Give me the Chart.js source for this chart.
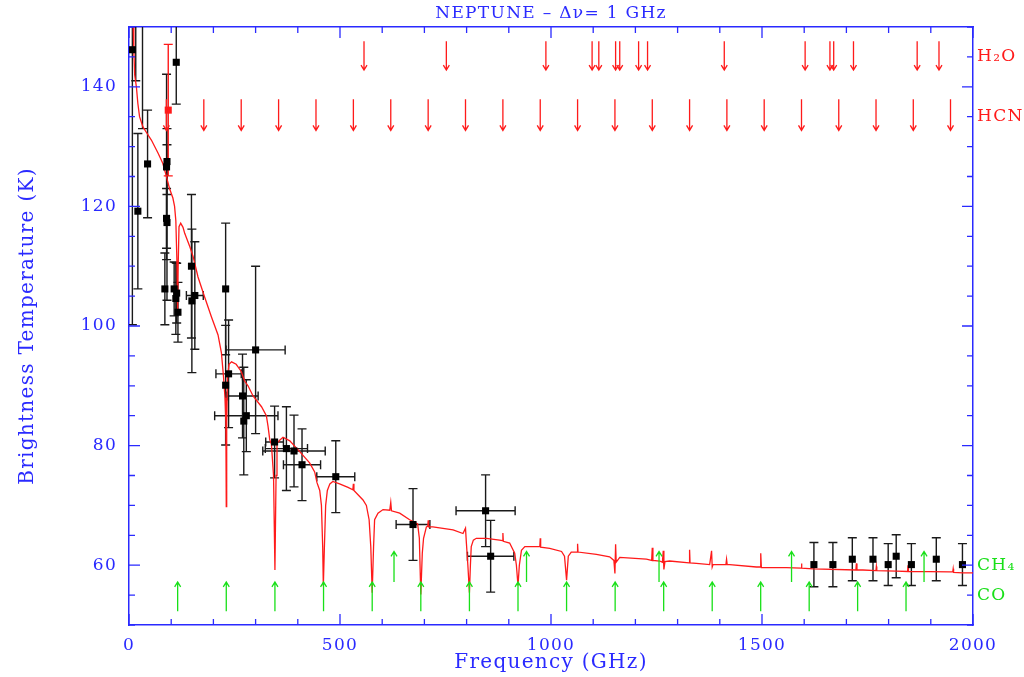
<!DOCTYPE html>
<html>
<head>
<meta charset="utf-8">
<title>Neptune - brightness temperature</title>
<script src="https://cdn.jsdelivr.net/npm/chart.js@4.4.1/dist/chart.umd.min.js"></script>
<style>
  html, body { margin: 0; padding: 0; background: #fff; }
  canvas { display: block; }
</style>
</head>
<body>
<canvas id="neptune" width="1024" height="677"></canvas>
<script>
/* global Chart */
// model spectrum (GHz, K)
const modelFreq = [9, 10, 11.5, 13.5, 17.5, 21, 25, 33, 41, 53, 69, 80, 88, 96, 104, 108, 111, 113.5, 115.3, 116.5,
  118.5, 122.5, 128, 132, 144, 152, 163.5, 179, 195, 211, 219, 224, 227.5, 229.5, 230.5, 231.5, 233.5, 237, 243, 254,
  266, 274, 282, 294, 314, 325.5, 329.5, 333.5, 337.5, 342.5, 345.8, 348.5, 350.7, 357, 365, 381, 404.5, 428, 440, 445.5,
  452, 456, 459, 460.5, 463, 466, 470, 476, 483, 499, 519, 530.5, 531.7, 533, 554.5, 562.5, 569, 573, 576.3, 579.5,
  582, 590, 602, 618, 620.3, 622, 641.5, 665, 684, 688, 691.5, 695, 698, 704.7, 708, 709, 710, 720, 768, 791.5,
  797.4, 799.5, 803, 806.7, 809, 811, 816, 823, 847, 878, 885, 886, 887, 902, 914, 918, 921.8, 925, 930, 938,
  957, 973.5, 974.5, 975.5, 997, 1025, 1032, 1036.9, 1041, 1048, 1062, 1063, 1064, 1107.6, 1139, 1149, 1151.5, 1153.1, 1154.5, 1163,
  1226, 1238.5, 1240, 1241.5, 1257.6, 1264, 1266, 1267.5, 1270, 1281, 1327.5, 1328.4, 1329.5, 1344.5, 1376, 1380.5, 1382, 1384, 1414.5, 1416,
  1417.5, 1423.5, 1486.7, 1496, 1497, 1498.5, 1557.8, 1592.5, 1593.6, 1594.5, 1621, 1722.5, 1723.7, 1725, 1739, 1770, 1771, 1772, 1818.5, 1845,
  1846, 1847, 1944.8, 1952, 1953, 1954, 1976, 2000];
const modelTemp = [175, 150, 146, 142, 140, 137.2, 135, 133.3, 132.4, 131.1, 128.9, 127.2, 125.2, 123, 121.4, 120, 117.6, 111, 102.3, 110,
  116.6, 117.2, 116.5, 115.5, 113.3, 111.6, 108.2, 104.9, 101.6, 98.5, 95.5, 91.5, 88, 84, 69.8, 84, 91.5, 93.6, 94, 93.6,
  92.4, 90.8, 90, 88.3, 86.5, 85, 83.2, 81, 80.2, 75, 59.2, 75, 80.4, 80.9, 81.4, 80.8, 79, 77.1, 75.6, 73.8,
  72.5, 70, 63, 56.5, 63, 70, 72.5, 73.6, 74, 73.6, 73, 72.6, 73.6, 72.5, 70.9, 70, 67.6, 63, 55.4, 63,
  67.6, 68.7, 69.3, 69.2, 70.5, 69.1, 68.7, 67.6, 66.9, 64.5, 55.1, 62, 64.5, 66.4, 66.5, 67.5, 66.4, 66.4, 65.9, 65.3,
  66.2, 63.7, 60, 55.4, 60, 63.1, 64.2, 64.5, 64.5, 64.2, 64.1, 65.4, 64, 63.7, 62, 60, 56.6, 60, 62.5, 63.1,
  63.1, 63.1, 64.5, 63, 62.8, 62.3, 61.5, 57.5, 61.5, 62.2, 62.2, 63.6, 62.2, 61.8, 61.4, 60.8, 58.6, 63.5, 60.5, 61.3,
  61, 60.8, 62.9, 60.8, 60.7, 60.5, 62.4, 59.3, 60.6, 60.7, 60.4, 62.6, 60.4, 60.3, 60.1, 62.4, 59.7, 60.1, 60.1, 61,
  60.1, 60.1, 59.7, 59.7, 62, 59.6, 59.6, 59.5, 60.3, 59.5, 59.4, 59.2, 60.3, 59.2, 59.2, 59.1, 59.8, 59.1, 59, 58.95,
  60, 58.95, 58.9, 58.9, 59.4, 58.8, 58.7, 58.7];

// measurements
const obsFreq = [8, 16, 32, 21, 44, 89, 90, 89, 90, 85, 107, 111, 113, 116, 112, 148, 149, 156, 229, 229,
  236, 269, 272, 278, 300, 345, 373, 391, 410, 490, 673, 845, 857, 1623, 1668, 1714, 1763, 1799, 1818, 1854, 1913, 1975];
const obsTemp = [146.2, 155, 165, 119.2, 127.1, 126.6, 127.5, 118, 117.3, 106.2, 106.2, 104.6, 105.5, 102.3, 144.1, 110, 104.2, 105.1, 106.2, 90.1,
  92, 88.3, 84.1, 85, 96, 80.6, 79.5, 79.1, 76.8, 74.8, 66.8, 69.1, 61.5, 60.1, 60.1, 61, 61, 60.1, 61.5, 60.1, 61, 60.1];
const obsTempErr = [46, 14, 32, 13, 9, 15.5, 5.5, 5, 13, 6, 4.5, 6, 5, 5, 7, 12, 12, 9, 11, 10,
  9, 7, 9, 6, 14, 6, 7, 6, 6, 6, 6, 6, 6, 3.7, 3.7, 3.6, 3.6, 3.5, 3.6, 3.5, 3.6, 3.5];
const obsFreqErr = [0, 0, 0, 0, 0, 0, 0, 0, 0, 0, 0, 0, 0, 0, 0, 0, 0, 20, 0, 0,
  30, 37, 0, 75, 70, 21, 50, 74, 44, 45, 40, 70, 55, 0, 0, 0, 0, 0, 0, 0, 0, 0];

const redFreq = [93];
const redTemp = [136.1];
const redTempErr = [11];

// line positions (GHz)
const h2oFreq = [556.9, 752.0, 987.9, 1097.4, 1113.3, 1153.1, 1162.9, 1207.6, 1228.8, 1410.6, 1602.2, 1661.0, 1669.9, 1716.8, 1867.7, 1919.4];
const hcnFreq = [88.6, 177.3, 265.9, 354.5, 443.1, 531.7, 620.3, 708.9, 797.4, 886.0, 974.5, 1063.0, 1151.5, 1240.0, 1328.4, 1416.8,
  1505.2, 1593.6, 1681.9, 1770.2, 1858.5, 1946.7];
const coFreq = [115.3, 230.5, 345.8, 461.0, 576.3, 691.5, 806.7, 921.8, 1036.9, 1152.0, 1267.0, 1382.0, 1496.9, 1611.8, 1726.6, 1841.3];
const ch4Freq = [628, 942, 1256, 1570, 1884];

const freqTicks = [0, 500, 1000, 1500, 2000];
const tempTicks = [60, 80, 100, 120, 140];
const sideLabels = ['CO', 'CH\u2084', 'HCN', 'H\u2082O'];
const sideLabelT = [55, 60, 135, 145];

const blue = '#2a2aff';
const red = '#ff1a1a';
const green = '#18e018';
const sideColors = [green, green, red, red];
const serif = "'DejaVu Serif', 'Liberation Serif', serif";

// wide lettering, closer to the old PGPLOT font
const wideText = {
    id: 'wideText',
    beforeLayout(chart) { chart.ctx.letterSpacing = '1.3px'; },
    beforeDraw(chart) { chart.ctx.letterSpacing = '1.3px'; }
};

const errorBars = {
    id: 'errorBars',
    beforeDatasetsDraw(chart) {
        const { ctx, chartArea: a, scales: { x, y } } = chart;
        const cap = 4.5;
        ctx.save();
        ctx.beginPath();
        ctx.rect(a.left, a.top, a.right - a.left, a.bottom - a.top);
        ctx.clip();
        chart.data.datasets.forEach(ds => {
            if (!ds.errY) return;
            ctx.strokeStyle = ds.barColor;
            ctx.lineWidth = 1.4;
            ds.data.forEach((p, i) => {
                const px = x.getPixelForValue(p.x);
                const py = y.getPixelForValue(p.y);
                const hi = y.getPixelForValue(p.y + ds.errY[i]);
                const lo = y.getPixelForValue(p.y - ds.errY[i]);
                ctx.beginPath();
                ctx.moveTo(px, hi); ctx.lineTo(px, lo);
                ctx.moveTo(px - cap, hi); ctx.lineTo(px + cap, hi);
                ctx.moveTo(px - cap, lo); ctx.lineTo(px + cap, lo);
                const ex = ds.errX ? ds.errX[i] : 0;
                if (ex) {
                    const l = x.getPixelForValue(p.x - ex);
                    const r = x.getPixelForValue(p.x + ex);
                    ctx.moveTo(l, py); ctx.lineTo(r, py);
                    ctx.moveTo(l, py - cap); ctx.lineTo(l, py + cap);
                    ctx.moveTo(r, py - cap); ctx.lineTo(r, py + cap);
                }
                ctx.stroke();
            });
        });
        ctx.restore();
    }
};

const lineMarkers = {
    id: 'lineMarkers',
    afterDatasetsDraw(chart) {
        const { ctx, scales: { x, y } } = chart;
        const rows = [
            { freqs: h2oFreq, from: 147.6, to: 142.8, color: red },
            { freqs: hcnFreq, from: 137.9, to: 132.7, color: red },
            { freqs: ch4Freq, from: 57.2, to: 62.3, color: green },
            { freqs: coFreq, from: 52.3, to: 57.2, color: green }
        ];
        ctx.save();
        ctx.lineWidth = 1.3;
        rows.forEach(row => {
            ctx.strokeStyle = row.color;
            row.freqs.forEach(f => {
                const px = x.getPixelForValue(f);
                const y0 = y.getPixelForValue(row.from);
                const y1 = y.getPixelForValue(row.to);
                const dir = y1 > y0 ? -1 : 1;
                ctx.beginPath();
                ctx.moveTo(px, y0); ctx.lineTo(px, y1);
                ctx.moveTo(px - 3, y1 + dir * 5); ctx.lineTo(px, y1); ctx.lineTo(px + 3, y1 + dir * 5);
                ctx.stroke();
            });
        });
        ctx.restore();
    }
};

// PGPLOT style ticks pointing inwards on all four sides
const innerTicks = {
    id: 'innerTicks',
    afterDraw(chart) {
        const { ctx, chartArea: a, scales: { x, y } } = chart;
        ctx.save();
        ctx.strokeStyle = blue;
        ctx.lineWidth = 1.3;
        ctx.beginPath();
        for (let f = 0; f <= 2000; f += 100) {
            const px = x.getPixelForValue(f);
            const len = f % 500 === 0 ? 11 : 6;
            ctx.moveTo(px, a.bottom); ctx.lineTo(px, a.bottom - len);
            ctx.moveTo(px, a.top); ctx.lineTo(px, a.top + len);
        }
        for (let t = 50; t <= 150; t += 5) {
            const py = y.getPixelForValue(t);
            const len = t % 20 === 0 ? 11 : 6;
            ctx.moveTo(a.left, py); ctx.lineTo(a.left + len, py);
            ctx.moveTo(a.right, py); ctx.lineTo(a.right - len, py);
        }
        ctx.stroke();
        ctx.restore();
    }
};

const noGrid = { display: false, drawTicks: false };

const ctx = document.getElementById('neptune').getContext('2d');
new Chart(ctx, {
    type: 'scatter',
    data: {
        datasets: [{
            label: 'Observations',
            data: obsFreq.map((f, i) => ({ x: f, y: obsTemp[i] })),
            errY: obsTempErr,
            errX: obsFreqErr,
            barColor: '#1a1a1a',
            pointStyle: 'rect',
            pointRadius: 5,
            backgroundColor: '#000',
            borderColor: '#000',
            borderWidth: 0
        }, {
            label: 'Red point',
            data: redFreq.map((f, i) => ({ x: f, y: redTemp[i] })),
            errY: redTempErr,
            barColor: red,
            pointStyle: 'rect',
            pointRadius: 5,
            backgroundColor: red,
            borderColor: red,
            borderWidth: 0
        }, {
            label: 'Model',
            data: modelFreq.map((f, i) => ({ x: f, y: modelTemp[i] })),
            showLine: true,
            pointRadius: 0,
            borderColor: red,
            borderWidth: 1.3,
            tension: 0
        }]
    },
    options: {
        responsive: false,
        animation: false,
        devicePixelRatio: 1,
        layout: { padding: 0 },
        plugins: { legend: { display: false }, tooltip: { enabled: false } },
        scales: {
            x: {
                type: 'linear', position: 'bottom', min: 0, max: 2000,
                afterBuildTicks: s => { s.ticks = freqTicks.map(v => ({ value: v })); },
                afterFit: s => { s.height = 52; },
                grid: noGrid,
                border: { color: blue, width: 1.5 },
                ticks: { color: blue, font: { family: serif, size: 17 }, padding: 10, maxRotation: 0,
                    callback: v => String(v) },
                title: { display: true, text: 'Frequency (GHz)', color: blue, padding: 0,
                    font: { family: serif, size: 20, lineHeight: '28px' } }
            },
            x2: {
                type: 'linear', position: 'top', min: 0, max: 2000,
                afterFit: s => { s.height = 27; },
                grid: noGrid,
                border: { color: blue, width: 1.5 },
                ticks: { display: false },
                title: { display: true, text: 'NEPTUNE \u2013 \u0394\u03bd= 1 GHz', color: blue, padding: 0,
                    font: { family: serif, size: 17, lineHeight: '28px' } }
            },
            y: {
                type: 'linear', position: 'left', min: 50, max: 150,
                afterBuildTicks: s => { s.ticks = tempTicks.map(v => ({ value: v })); },
                afterFit: s => { s.width = 129; },
                grid: noGrid,
                border: { color: blue, width: 1.5 },
                ticks: { color: blue, font: { family: serif, size: 17 }, padding: 12 },
                title: { display: true, text: 'Brightness Temperature (K)', color: blue, padding: 0,
                    font: { family: serif, size: 20, lineHeight: '56px' } }
            },
            y2: {
                type: 'linear', position: 'right', min: 50, max: 150,
                afterBuildTicks: s => { s.ticks = sideLabelT.map(v => ({ value: v })); },
                afterFit: s => { s.width = 51; },
                grid: noGrid,
                border: { color: blue, width: 1.5 },
                ticks: {
                    autoSkip: false,
                    padding: 4,
                    font: { family: serif, size: 17 },
                    color: c => sideColors[c.index],
                    callback: (v, i) => sideLabels[i]
                }
            }
        }
    },
    plugins: [wideText, errorBars, lineMarkers, innerTicks]
});
</script>
</body>
</html>
